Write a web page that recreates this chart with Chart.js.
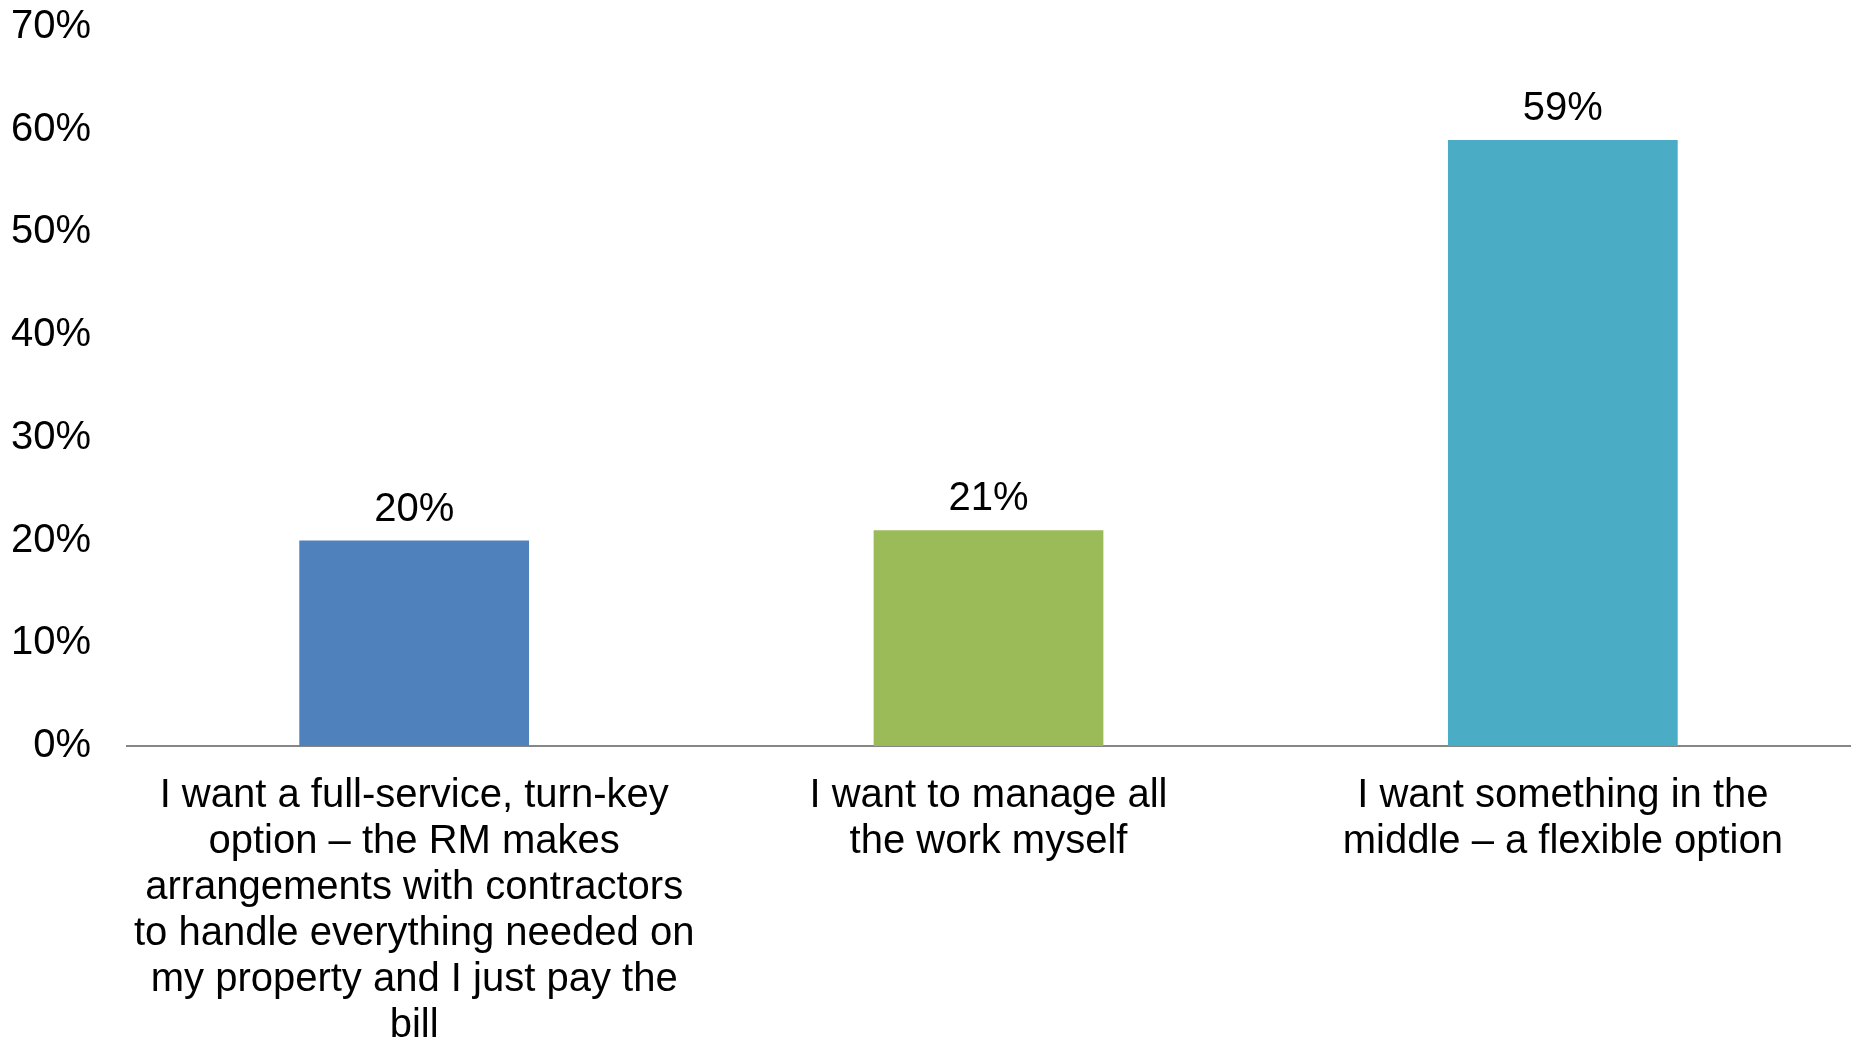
<!DOCTYPE html>
<html>
<head>
<meta charset="utf-8">
<script src="https://cdn.jsdelivr.net/npm/chart.js@4.4.0/dist/chart.umd.min.js"></script>
<style>
  html, body { margin: 0; padding: 0; background: #fff; }
  #wrap { width: 1856px; height: 1040px; }
</style>
</head>
<body>
<div id="wrap"><canvas id="barChart" width="1856" height="1040"></canvas></div>
<script>
// categories (already wrapped as in the picture)
var categories = [
  ["I want a full-service, turn-key", "option \u2013 the RM makes", "arrangements with contractors",
   "to handle everything needed on", "my property and I just pay the", "bill"],
  ["I want to manage all", "the work myself"],
  ["I want something in the", "middle \u2013 a flexible option"]
];
var values = [20, 21, 59];
var barColors = ['#4F81BD', '#9BBB59', '#4BACC6'];
var yTicks = [0, 10, 20, 30, 40, 50, 60, 70];

var FONT = '"Liberation Sans", Arial, sans-serif';

// draw the value above each bar
var valueLabels = {
  id: 'valueLabels',
  afterDatasetsDraw: function(chart) {
    var ctx = chart.ctx;
    var meta = chart.getDatasetMeta(0);
    ctx.save();
    ctx.font = '40px ' + FONT;
    ctx.fillStyle = '#000';
    ctx.textAlign = 'center';
    ctx.textBaseline = 'alphabetic';
    meta.data.forEach(function(bar, i) {
      ctx.fillText(values[i] + '%', bar.x, bar.y - 20);
    });
    ctx.restore();
  }
};

function barChart() {
  let ctx = document.getElementById('barChart').getContext('2d');
  myChart = new Chart(ctx, {
    type: 'bar',
    data: {
      labels: categories,
      datasets: [{
        data: values,
        backgroundColor: barColors,
        borderWidth: 0,
        categoryPercentage: 1.0,
        barPercentage: 0.4
      }]
    },
    options: {
      responsive: false,
      animation: false,
      layout: { padding: { top: 27, right: 6, left: 0, bottom: 0 } },
      scales: {
        x: {
          grid: { display: false, drawTicks: false },
          border: { display: true, color: '#868686', width: 2 },
          ticks: {
            color: '#000',
            font: { family: FONT, size: 40, lineHeight: 1.15 },
            padding: 27,
            maxRotation: 0,
            autoSkip: false
          },
          afterFit: function(scale) {
            scale.height = 294;
            scale.paddingTop = 0;
            scale.paddingBottom = 0;
          }
        },
        y: {
          min: 0,
          max: 70,
          afterBuildTicks: function(scale) {
            scale.ticks = yTicks.map(function(v) { return { value: v }; });
          },
          grid: { display: false, drawTicks: false },
          border: { display: false },
          ticks: {
            color: '#000',
            font: { family: FONT, size: 40 },
            padding: 36,
            callback: function(v) { return v + '%'; }
          },
          afterFit: function(scale) {
            scale.width = 127;
            scale.paddingTop = 0;
            scale.paddingBottom = 0;
          }
        }
      },
      plugins: {
        legend: { display: false },
        tooltip: { enabled: false }
      }
    },
    plugins: [valueLabels]
  });
}

barChart();
</script>
</body>
</html>
